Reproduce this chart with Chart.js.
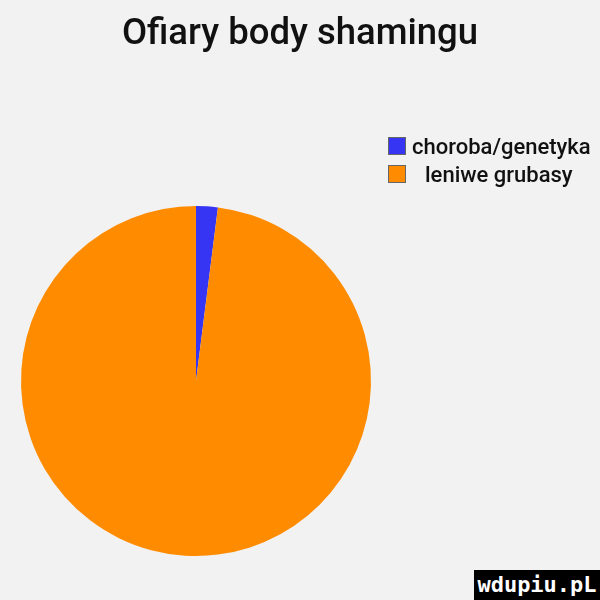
<!DOCTYPE html>
<html>
<head>
<meta charset="utf-8">
<script src="https://cdn.jsdelivr.net/npm/chart.js@4"></script>
<style>
  html, body { margin: 0; padding: 0; background: #f2f2f2; }
  .wrap { position: relative; width: 600px; height: 600px; }
  .title { position: absolute; left: 0; top: 10px; width: 600px; text-align: center; font-family: Roboto, sans-serif;
           font-weight: 500; font-size: 36.5px; color: #111; line-height: 44px; }
  .legend { position: absolute; left: 388px; top: 132px; font-family: Roboto, sans-serif; font-weight: 500; font-size: 22px; color: #111; }
  .legend .row { display: flex; align-items: center; height: 28px; }
  .legend .box { width: 18px; height: 18px; border: 1px solid #666; margin-right: 6px; box-sizing: border-box; }
  .legend .row:nth-child(2) .txt { margin-left: 13px; }
  .mark { position: absolute; left: 474px; top: 570px; width: 126px; height: 30px; background: #000; color: #fff;
          font-family: "DejaVu Sans Mono", monospace; font-weight: bold; font-size: 22px; line-height: 30px; text-align: center; }
</style>
</head>
<body>
<div class="wrap">
  <canvas id="pie" width="600" height="600"></canvas>
  <div class="title" id="title"></div>
  <div class="legend" id="legend"></div>
  <div class="mark">wdupiu.pL</div>
</div>
<script>
"use strict";
// ? DATA
// ! ========================== ! \\
const chartTitle = "Ofiary body shamingu";
const labels = ["choroba/genetyka", "leniwe grubasy"];
const values = [2, 98];
const colors = ["#3535f3", "#ff8c00"];

document.getElementById("title").textContent = chartTitle;

// ? LEGEND (html)
const legendBox = document.getElementById("legend");
labels.forEach((lbl, i) => {
  const html = `
    <div class="row">
      <span class="box" style="background:${colors[i]}"></span>
      <span class="txt">${lbl}</span>
    </div>`;
  legendBox.insertAdjacentHTML("beforeend", html);
});

// ? CHART
const ctx = document.getElementById("pie").getContext("2d");
const chart = new Chart(ctx, {
  type: "pie",
  data: {
    labels: labels,
    datasets: [
      {
        data: values,
        backgroundColor: colors,
        borderWidth: 0,
      },
    ],
  },
  options: {
    responsive: false,
    animation: false,
    layout: {
      padding: { left: 21, right: 229, top: 206, bottom: 44 },
    },
    plugins: {
      legend: { display: false },
      tooltip: { enabled: false },
      title: { display: false },
    },
  },
});
</script>
</body>
</html>
